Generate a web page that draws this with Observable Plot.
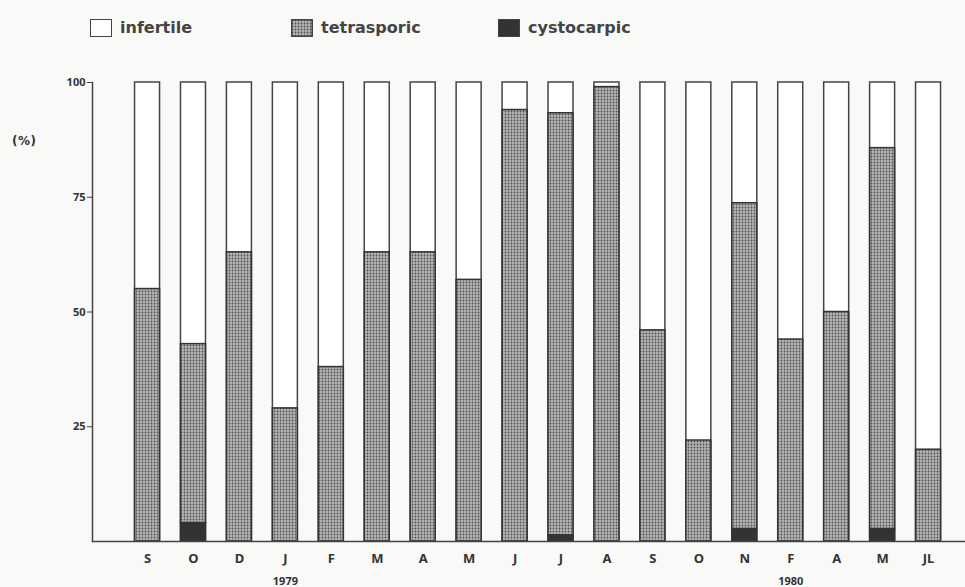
<!DOCTYPE html>
<html>
<head>
<meta charset="utf-8">
<script src="https://cdn.jsdelivr.net/npm/d3@7"></script>
<script src="https://cdn.jsdelivr.net/npm/@observablehq/plot@0.6"></script>
<style>
  html, body { margin: 0; padding: 0; background: #f9f9f7; }
  #wrap { position: relative; width: 965px; height: 587px; font-family: "DejaVu Sans", sans-serif; }
  #legend { position: absolute; left: 0; top: 0; width: 965px; height: 50px; }
  .item { position: absolute; top: 18px; display: flex; align-items: center; font-size: 16px; font-weight: bold; color: #444; }
  .sw { width: 22px; height: 18px; box-sizing: border-box; border: 1.5px solid #444; margin-right: 8px; }
  #ylabel { position: absolute; left: 12px; top: 134px; font-size: 12px; font-weight: bold; color: #333; letter-spacing: 0.5px; }
  #chart { position: absolute; left: 0; top: 50px; }
</style>
</head>
<body>
<div id="wrap">
  <div id="legend">
    <div class="item" style="left:90px"><div class="sw" style="background:#fff"></div>infertile</div>
    <div class="item" style="left:291px"><svg width="22" height="18" style="margin-right:8px"><defs><pattern id="stipL" width="3" height="3" patternUnits="userSpaceOnUse"><rect width="3" height="3" fill="#b4b4b4"></rect><circle cx="1.5" cy="1.5" r="0.9" fill="#505050"></circle></pattern></defs><rect x="0.75" y="0.75" width="20.5" height="16.5" fill="url(#stipL)" stroke="#444" stroke-width="1.5"></rect></svg>tetrasporic</div>
    <div class="item" style="left:498px"><div class="sw" style="background:#333"></div>cystocarpic</div>
  </div>
  <div id="ylabel">(%)</div>
  <div id="chart"></div>
</div>
<script>
const months = ["S","O","D","J","F","M","A","M","J","J","A","S","O","N","F","A","M","JL"];
const tetrasporic = [55,39,63,29,38,63,63,57,94,92,99,46,22,71,44,50,83,20];
const cystocarpic = [0,4,0,0,0,0,0,0,0,1.3,0,0,0,2.7,0,0,2.7,0];
const yearLabels = [{i: 3, text: "1979"}, {i: 14, text: "1980"}];
const yTicks = [25, 50, 75, 100];

const rows = months.map((m, i) => ({
  i, m,
  c: cystocarpic[i],
  t: tetrasporic[i]
}));

const plot = Plot.plot({
  width: 965,
  height: 537,
  marginLeft: 92,
  marginRight: 0,
  marginTop: 32,
  marginBottom: 46,
  style: {background: "transparent", color: "#333"},
  x: {type: "band", domain: d3.range(months.length), range: [113.6, 961.5], paddingInner: 0.456, paddingOuter: 0.456, round: false, axis: null},
  y: {domain: [0, 100], axis: null},
  marks: [
    Plot.barY(rows, {x: "i", y1: 0, y2: 100, fill: "#fff", stroke: "#444", strokeWidth: 1.5}),
    Plot.barY(rows, {x: "i", y1: d => d.c, y2: d => d.c + d.t, fill: "url(#stip)", stroke: "#333", strokeWidth: 1.5}),
    Plot.barY(rows.filter(d => d.c > 0), {x: "i", y1: 0, y2: d => d.c, fill: "#333", stroke: "#333", strokeWidth: 1.5}),
    Plot.axisY({ticks: yTicks, tickSize: 5, tickPadding: 2, fontSize: 11, fontWeight: "bold", stroke: "#444", style: {letterSpacing: "1px"}}),
    Plot.frame({anchor: "left", stroke: "#444", strokeWidth: 1.5}),
    Plot.ruleY([0], {stroke: "#444", strokeWidth: 1.5}),
    Plot.text(rows, {x: "i", y: 0, dy: 17, text: "m", fontSize: 13, fontWeight: "bold", fill: "#333"}),
    Plot.text(yearLabels, {x: "i", y: 0, dy: 40, text: "text", fontSize: 11, fontWeight: "bold", fill: "#333"})
  ]
});

const svg = d3.select(plot);
const defs = svg.insert("defs", ":first-child");
const pat = defs.append("pattern").attr("id", "stip").attr("width", 3).attr("height", 3).attr("patternUnits", "userSpaceOnUse");
pat.append("rect").attr("width", 3).attr("height", 3).attr("fill", "#b4b4b4");
pat.append("circle").attr("cx", 1.5).attr("cy", 1.5).attr("r", 0.9).attr("fill", "#505050");

document.getElementById("chart").appendChild(plot);
</script>
</body>
</html>
